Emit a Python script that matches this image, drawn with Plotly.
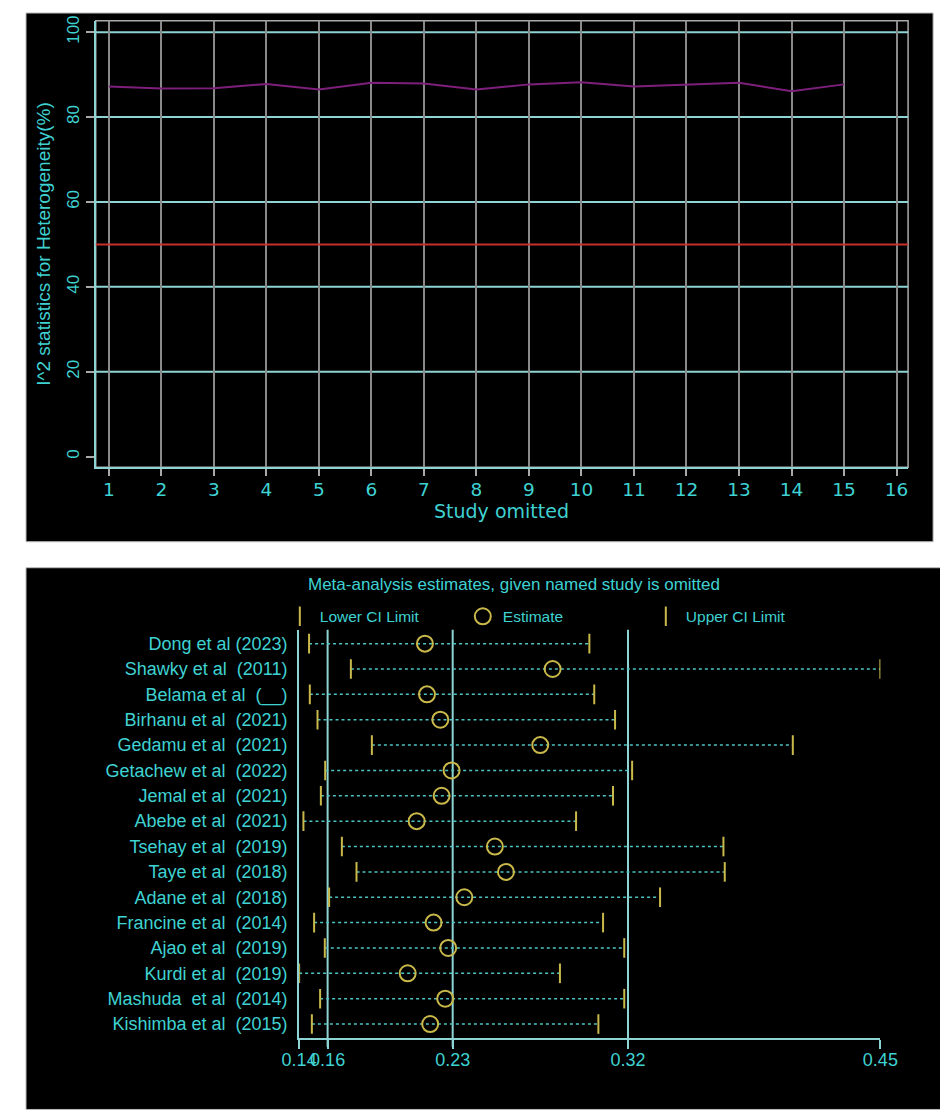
import plotly.graph_objects as go

# --- top panel: I^2 after omitting each study ---
STUDY_OMITTED = list(range(1, 16))
I2_VALUES = [87.2, 86.7, 86.8, 87.8, 86.5, 88.1, 87.9, 86.5, 87.7, 88.2,
             87.2, 87.6, 88.1, 86.1, 87.7]
X_TICKS = list(range(1, 17))
Y_TICKS = [0, 20, 40, 60, 80, 100]
GRID_LEVELS = [20, 40, 60, 80, 100]
I2_CUTOFF = 50

# --- bottom panel: leave-one-out estimates ---
STUDIES = ["Dong et al (2023)", "Shawky et al \u00a0(2011)", "Belama et al \u00a0(__)",
           "Birhanu et al \u00a0(2021)", "Gedamu et al \u00a0(2021)", "Getachew et al \u00a0(2022)",
           "Jemal et al \u00a0(2021)", "Abebe et al \u00a0(2021)", "Tsehay et al \u00a0(2019)",
           "Taye et al \u00a0(2018)", "Adane et al \u00a0(2018)", "Francine et al \u00a0(2014)",
           "Ajao et al \u00a0(2019)", "Kurdi et al \u00a0(2019)", "Mashuda \u00a0et al \u00a0(2014)",
           "Kishimba et al \u00a0(2015)"]
LOWER = [0.1493, 0.1716, 0.1497, 0.1538, 0.1828, 0.1579, 0.1556, 0.1463,
         0.1668, 0.1746, 0.1600, 0.1520, 0.1577, 0.1440, 0.1552, 0.1508]
ESTIMATE = [0.2111, 0.2792, 0.2122, 0.2193, 0.2726, 0.2253, 0.2200, 0.2067,
            0.2484, 0.2543, 0.2321, 0.2157, 0.2235, 0.2019, 0.2219, 0.2139]
UPPER = [0.2988, 0.4540, 0.3014, 0.3125, 0.4073, 0.3216, 0.3114, 0.2917,
         0.3703, 0.3710, 0.3365, 0.3061, 0.3174, 0.2831, 0.3174, 0.3036]
OVERALL = [0.1592, 0.2259, 0.3194]  # pooled lower CI, estimate, upper CI
AXIS_TICKS = [0.1440, 0.1592, 0.2259, 0.3194, 0.4540]
AXIS_LABELS = ["0.14", "0.16", "0.23", "0.32", "0.45"]

CYAN = "#3fd2d2"
LINE_CYAN = "#8fd4d4"
GOLD = "#c9b84a"
FONT = "Arial, Liberation Sans, sans-serif"
WIDE = "DejaVu Sans, Verdana, sans-serif"

# the photo maps figure px to screen px roughly as screen = off + scale * fig
W, H = 958, 1112
SX, OX = 0.962, 25.3
SY, OY = 0.996, 13


def px_x(p):
    return min(max((p - OX) / SX / W, 0), 1)


def px_y(p):
    return min(max(1 - (p - OY) / SY / H, 0), 1)


fig = go.Figure()

# top panel
fig.add_trace(go.Scatter(x=STUDY_OMITTED, y=I2_VALUES, mode="lines",
                         line=dict(color="#7d1f7b", width=2),
                         showlegend=False, xaxis="x", yaxis="y"))

# bottom panel
seg_x, seg_y = [], []
for name, lo, hi in zip(STUDIES, LOWER, UPPER):
    seg_x += [lo, hi, None]
    seg_y += [name, name, None]
fig.add_trace(go.Scatter(x=seg_x, y=seg_y, mode="lines",
                         line=dict(color="#4cc4c4", width=1.5, dash="dot"),
                         showlegend=False, xaxis="x2", yaxis="y2"))
fig.add_trace(go.Scatter(x=LOWER, y=STUDIES, mode="markers", name="Lower CI Limit",
                         marker=dict(symbol="line-ns", size=14,
                                     line=dict(color=GOLD, width=2)),
                         xaxis="x2", yaxis="y2"))
fig.add_trace(go.Scatter(x=ESTIMATE, y=STUDIES, mode="markers", name="Estimate",
                         marker=dict(symbol="circle-open", size=16, color=GOLD,
                                     line=dict(color=GOLD, width=2)),
                         xaxis="x2", yaxis="y2"))
fig.add_trace(go.Scatter(x=UPPER, y=STUDIES, mode="markers", name="Upper CI Limit",
                         marker=dict(symbol="line-ns", size=14,
                                     line=dict(color=GOLD, width=2)),
                         xaxis="x2", yaxis="y2"))

shapes = [
    # black panels
    dict(type="rect", xref="paper", yref="paper", x0=px_x(2), x1=px_x(932),
         y0=px_y(542), y1=px_y(2), fillcolor="black",
         line=dict(color="#bbbbbb", width=1), layer="below"),
    dict(type="rect", xref="paper", yref="paper", x0=px_x(2), x1=px_x(946),
         y0=px_y(1110), y1=px_y(568), fillcolor="black",
         line=dict(color="#bbbbbb", width=1), layer="below"),
    # grey frame of top plot
    dict(type="rect", xref="x domain", yref="y domain", x0=0, x1=1, y0=0, y1=1,
         line=dict(color="#aaaaaa", width=1.5), layer="below"),
]
for lvl in GRID_LEVELS:
    shapes.append(dict(type="line", xref="x domain", yref="y", x0=0, x1=1,
                       y0=lvl, y1=lvl, line=dict(color=LINE_CYAN, width=2),
                       layer="below"))
shapes.append(dict(type="line", xref="x domain", yref="y", x0=0, x1=1,
                   y0=I2_CUTOFF, y1=I2_CUTOFF, line=dict(color="#c8302c", width=2)))
for v in OVERALL:
    shapes.append(dict(type="line", xref="x2", yref="y2 domain", x0=v, x1=v,
                       y0=-0.022, y1=1, line=dict(color=LINE_CYAN, width=2),
                       layer="below"))

annotations = [
    dict(text="Study omitted", xref="x domain", yref="paper", x=0.5, y=px_y(511),
         xanchor="center", yanchor="middle", showarrow=False,
         font=dict(family=WIDE, size=19, color=CYAN)),
    dict(text="Meta-analysis estimates, given named study is omitted",
         xref="paper", yref="paper", x=px_x(305), y=px_y(585),
         xanchor="left", yanchor="middle", showarrow=False,
         font=dict(size=17, color=CYAN)),
]

fig.update_layout(
    width=W, height=H,
    margin=dict(l=0, r=0, t=0, b=0),
    paper_bgcolor="white",
    plot_bgcolor="black",
    font=dict(family=FONT, color=CYAN),
    shapes=shapes,
    annotations=annotations,
    xaxis=dict(domain=[px_x(95), px_x(907)], range=[0.75, 16.22],
               tickvals=X_TICKS, showgrid=True, gridcolor="#8a8a8a", gridwidth=1.5,
               zeroline=False, showline=True, linecolor=LINE_CYAN, linewidth=2,
               ticks="outside", ticklen=7, tickcolor="#aaaaaa", tickwidth=1.5,
               ticklabelstandoff=-2,
               tickfont=dict(family=WIDE, size=18.5, color=CYAN)),
    yaxis=dict(domain=[px_y(467.5), px_y(20.7)], range=[-2.5, 102.7],
               tickvals=Y_TICKS, tickangle=-90, showgrid=False, zeroline=False,
               showline=True, linecolor=LINE_CYAN, linewidth=2,
               ticks="outside", ticklen=8, tickcolor="#aaaaaa", tickwidth=1.5,
               tickfont=dict(size=17, color=CYAN),
               title=dict(text="I^2 statistics for Heterogeneity(%)",
                          font=dict(size=19, color=CYAN), standoff=8)),
    xaxis2=dict(domain=[px_x(298.3), px_x(879.3)], range=[AXIS_TICKS[0], AXIS_TICKS[-1]],
                tickvals=AXIS_TICKS, ticktext=AXIS_LABELS, tickangle=0, showgrid=False,
                zeroline=False, showline=True, linecolor=LINE_CYAN, linewidth=2,
                ticks="outside", ticklen=9, tickcolor=LINE_CYAN, tickwidth=2,
                ticklabelstandoff=-5,
                tickfont=dict(size=18, color=CYAN), anchor="y2"),
    yaxis2=dict(domain=[px_y(1038.5), px_y(630)], type="category",
                categoryorder="array", categoryarray=STUDIES,
                range=[15.55, -0.55], showgrid=False, zeroline=False,
                showline=True, linecolor=LINE_CYAN, linewidth=2,
                ticks="outside", ticklen=6, tickcolor="rgba(0,0,0,0)",
                tickfont=dict(size=18, color=CYAN), anchor="x2"),
    legend=dict(orientation="h", x=px_x(279), y=px_y(600), xanchor="left", yanchor="top",
                bgcolor="rgba(0,0,0,0)", font=dict(size=15.5, color=CYAN),
                itemwidth=30, entrywidth=138, entrywidthmode="pixels"),
)

fig.write_html("out.html")
